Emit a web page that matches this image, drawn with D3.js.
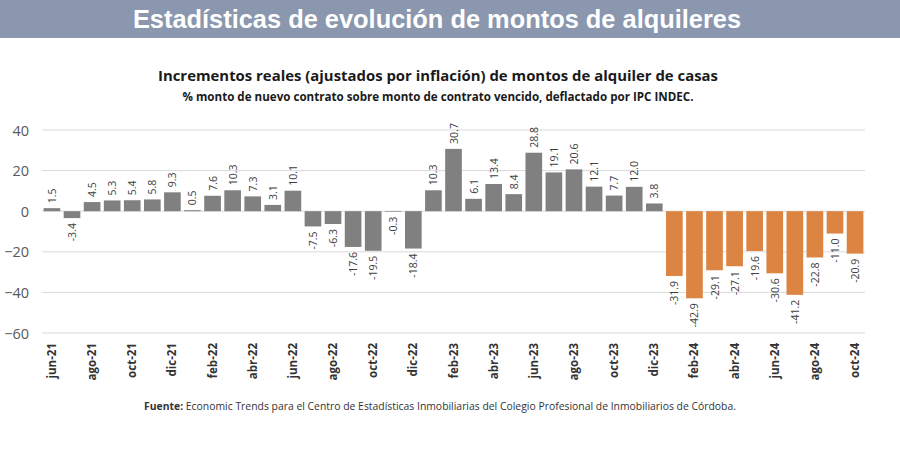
<!DOCTYPE html>
<html><head><meta charset="utf-8">
<script src="https://cdn.jsdelivr.net/npm/d3@7"></script>
<style>body{margin:0;background:#fff}svg{display:block}</style>
</head><body>
<svg id="c" width="900" height="457"></svg>
<script>
const months = ["jun-21","jul-21","ago-21","sep-21","oct-21","nov-21","dic-21","ene-22","feb-22","mar-22","abr-22","may-22","jun-22","jul-22","ago-22","sep-22","oct-22","nov-22","dic-22","ene-23","feb-23","mar-23","abr-23","may-23","jun-23","jul-23","ago-23","sep-23","oct-23","nov-23","dic-23","ene-24","feb-24","mar-24","abr-24","may-24","jun-24","jul-24","ago-24","sep-24","oct-24"];
const values = [1.5,-3.4,4.5,5.3,5.4,5.8,9.3,0.5,7.6,10.3,7.3,3.1,10.1,-7.5,-6.3,-17.6,-19.5,-0.3,-18.4,10.3,30.7,6.1,13.4,8.4,28.8,19.1,20.6,12.1,7.7,12.0,3.8,-31.9,-42.9,-29.1,-27.1,-19.6,-30.6,-41.2,-22.8,-11.0,-20.9];
const highlightFrom = "ene-24";
const yTicks = [40,20,0,-20,-40,-60];
const tickMonths = months.filter((m,i)=>i%2===0);

const svg = d3.select("#c");
const F = "'Open Sans', sans-serif";

svg.append("rect").attr("x",0).attr("y",0).attr("width",900).attr("height",38).attr("fill","#8a97ae");
svg.append("text").attr("x",437).attr("y",28).attr("text-anchor","middle")
  .attr("font-family","'Liberation Sans', Arial, sans-serif").attr("font-weight","bold")
  .attr("font-size",25.4).attr("fill","#fff").text("Estadísticas de evolución de montos de alquileres");

svg.append("text").attr("x",438).attr("y",81).attr("text-anchor","middle")
  .attr("font-family",F).attr("font-weight","bold").attr("font-size",14.9).attr("fill","#1a1a1a")
  .text("Incrementos reales (ajustados por inflación) de montos de alquiler de casas");
svg.append("text").attr("x",438).attr("y",101).attr("text-anchor","middle")
  .attr("font-family",F).attr("font-weight","bold").attr("font-size",11.6).attr("fill","#1a1a1a")
  .text("% monto de nuevo contrato sobre monto de contrato vencido, deflactado por IPC INDEC.");

const x = d3.scaleBand().domain(months).range([42,865]).paddingInner(0.17).paddingOuter(0.08);
const y = d3.scaleLinear().domain([-60,40]).range([333,130]);

const g = svg.append("g");
g.selectAll("line.grid").data(yTicks).join("line").attr("class","grid")
  .attr("x1",42).attr("x2",865).attr("y1",d=>y(d)).attr("y2",d=>y(d))
  .attr("stroke","#d9d9d9").attr("stroke-width",1);

const yAxis = d3.axisLeft(y).tickValues(yTicks).tickSize(0).tickPadding(0);
const ya = svg.append("g").attr("transform","translate(29,0)").call(yAxis);
ya.select(".domain").remove();
ya.selectAll("text").attr("font-family",F).attr("font-size",14.5).attr("fill","#595959").attr("dy","0.35em");

const hi = months.indexOf(highlightFrom);
g.selectAll("rect.bar").data(values).join("rect").attr("class","bar")
  .attr("x",(d,i)=>x(months[i])).attr("width",x.bandwidth())
  .attr("y",d=>y(Math.max(0,d))).attr("height",d=>Math.abs(y(d)-y(0)))
  .attr("fill",(d,i)=>i>=hi?"#dc8441":"#808080");

g.selectAll("text.lbl").data(values).join("text").attr("class","lbl")
  .attr("transform",(d,i)=>{
    const cx = x(months[i])+x.bandwidth()/2;
    const cy = d>=0 ? y(d)-5 : y(d)+5;
    return `translate(${cx+4},${cy}) rotate(-90)`;
  })
  .attr("text-anchor",d=>d>=0?"start":"end")
  .attr("font-family",F).attr("font-size",10.5).attr("fill","#404040")
  .text(d=>d.toFixed(1));

const xAxis = d3.axisBottom(x).tickValues(tickMonths).tickSize(0).tickPadding(0);
const xa = svg.append("g").attr("transform","translate(0,343)").call(xAxis);
xa.select(".domain").remove();
xa.selectAll("text").attr("font-family",F).attr("font-weight","bold").attr("font-size",11.5).attr("fill","#333")
  .attr("text-anchor","end").attr("transform","rotate(-90)").attr("x",0).attr("y",0).attr("dy","0.35em");

const ft = svg.append("text").attr("x",440).attr("y",410).attr("text-anchor","middle")
  .attr("font-family",F).attr("font-size",10.4).attr("fill","#333");
ft.append("tspan").attr("font-weight","bold").text("Fuente:");
ft.append("tspan").text(" Economic Trends para el Centro de Estadísticas Inmobiliarias del Colegio Profesional de Inmobiliarios de Córdoba.");
</script>
</body></html>
